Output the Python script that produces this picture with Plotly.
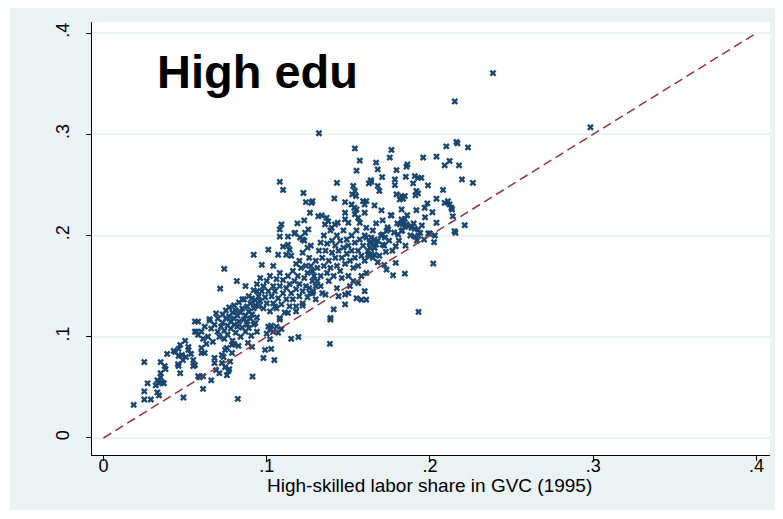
import plotly.graph_objects as go

# ---- data: (GVC high-skilled share 1995, value), grouped by area ----
lower_tail = [
    (.0185, .0327), (.025, .075), (.025, .038), (.025, .046), (.027, .054), (.029, .038),
    (.034, .042), (.033, .045), (.034, .054), (.033, .057), (.035, .060), (.036, .055),
    (.032, .052), (.035, .064), (.035, .075), (.037, .054), (.0375, .071), (.038, .068),
    (.039, .083), (.043, .086), (.044, .085), (.046, .088), (.047, .092), (.048, .082),
    (.046, .081), (.047, .064), (.046, .071), (.0456, .073), (.0487, .077), (.0505, .080),
    (.050, .096), (.052, .090), (.052, .087), (.0536, .083), (.049, .040), (.055, .077),
    (.056, .072), (.055, .071), (.058, .061), (.059, .060), (.061, .061), (.056, .115),
    (.056, .105), (.057, .105), (.060, .089), (.060, .084), (.062, .084), (.061, .0485),
    (.066, .057), (.068, .079), (.068, .074), (.069, .067), (.071, .064), (.0725, .082),
    (.0735, .080), (.0725, .074), (.0745, .087), (.0756, .089), (.0745, .070), (.0765, .066),
    (.077, .068), (.0756, .062), (.0776, .0755), (.0787, .084), (.0787, .092), (.080, .093),
    (.0827, .091), (.0823, .0386),
]
left_edge = [
    (.074, .167), (.0817, .155), (.0715, .1475), (.058, .115), (.065, .1175), (.085, .137),
    (.087, .150), (.0878, .115), (.093, .1135), (.089, .1086), (.094, .105), (.0905, .101),
    (.0885, .094), (.091, .090), (.101, .110), (.1027, .111), (.102, .107), (.100, .103),
    (.102, .0977), (.106, .110), (.109, .1076), (.107, .104), (.104, .105), (.099, .087),
    (.1027, .088), (.098, .079), (.1047, .077), (.115, .098), (.1194, .0997), (.1387, .093),
    (.0913, .0607), (.108, .117), (.139, .117),
]
middle_sparse = [
    (.092, .181), (.101, .186), (.097, .171), (.104, .170), (.107, .181), (.110, .189),
    (.113, .191), (.114, .186), (.112, .181), (.108, .199), (.113, .199), (.117, .202),
    (.1204, .198), (.122, .196), (.134, .143), (.136, .1416), (.148, .1416), (.141, .127),
    (.148, .132), (.139, .1185), (.122, .1307), (.1285, .145), (.1265, .143), (.108, .1185),
    (.113, .1235), (.118, .130), (.105, .130), (.155, .138), (.158, .1366), (.153, .155),
    (.156, .153), (.133, .150), (.138, .155), (.143, .148), (.146, .158), (.151, .150),
    (.144, .140), (.131, .155), (.150, .143),
]
upper_middle = [
    (.154, .286), (.157, .274), (.155, .264), (.108, .253), (.110, .245), (.1225, .242),
    (.124, .233), (.1275, .2323), (.128, .234), (.1265, .2225), (.123, .215), (.1188, .212),
    (.109, .211), (.108, .206), (.143, .252), (.1414, .2366), (.148, .233), (.148, .2225),
    (.152, .2307), (.1536, .2274), (.155, .2257), (.153, .249), (.154, .244), (.1524, .2406),
    (.1547, .239), (.159, .234), (.1316, .219), (.1337, .2198), (.1367, .2175), (.1377, .214),
    (.1357, .211), (.1418, .211), (.1435, .2126), (.1398, .2076), (.148, .216), (.150, .2126),
    (.154, .221), (.156, .2175), (.157, .2126), (.1255, .206), (.1235, .2027), (.1174, .2027),
]
right_lower = [
    (.161, .198), (.164, .198), (.166, .196), (.171, .201), (.1724, .198), (.1734, .2045),
    (.1805, .201), (.1826, .2045), (.1907, .199), (.193, .200), (.194, .2026), (.1999, .202),
    (.203, .200), (.2025, .1934), (.1964, .196), (.2156, .2027), (.167, .191), (.164, .1927),
    (.1632, .1878), (.166, .1878), (.171, .191), (.179, .1894), (.173, .1839), (.162, .181),
    (.164, .182), (.166, .181), (.165, .178), (.163, .1795), (.168, .1736), (.172, .171),
    (.1734, .1663), (.179, .173), (.1774, .1607), (.1846, .1624), (.202, .1723), (.161, .163),
    (.160, .145), (.161, .1366), (.193, .1245),
]
right_upper = [
    (.210, .288), (.2168, .291), (.2233, .287), (.1764, .2845), (.1754, .277), (.1958, .277),
    (.204, .278), (.167, .272), (.168, .2653), (.1862, .2703), (.1856, .268), (.1795, .2646),
    (.212, .2736), (.209, .2693), (.2178, .2693), (.1638, .2547), (.1626, .2515), (.164, .253),
    (.1707, .2577), (.1785, .2554), (.1785, .2498), (.1852, .258), (.1907, .2587), (.1927, .257),
    (.1947, .257), (.1897, .2515), (.1988, .2495), (.2196, .2554), (.2263, .252), (.208, .245),
    (.168, .249), (.169, .244), (.161, .234), (.160, .2307), (.166, .2297), (.1703, .2248),
    (.1764, .2198), (.1795, .2406), (.1826, .239), (.1846, .239), (.1815, .2356), (.1835, .2363),
    (.1917, .244), (.1927, .2416), (.1911, .2396), (.1826, .2257), (.1917, .225), (.1968, .2274),
    (.1984, .2317), (.204, .2363), (.2015, .223), (.209, .2323), (.211, .234), (.212, .2307),
    (.2131, .2274), (.2135, .2257), (.214, .219), (.2213, .2102), (.204, .2126), (.1826, .2158),
    (.1846, .2165), (.1835, .2126), (.1856, .211), (.1815, .211), (.1866, .2092), (.1846, .2086),
    (.1887, .2076), (.1907, .2066), (.1927, .206), (.161, .2076), (.160, .2225), (.1744, .206),
    (.199, .202), (.215, .2043),
]
outliers = [
    (.2386, .3604), (.2152, .3324), (.132, .301), (.2162, .2924), (.2983, .3069),
]
dense_low = [
    (.066, .108), (.068, .112), (.070, .105), (.070, .118), (.071, .100), (.072, .110),
    (.073, .114), (.073, .122), (.074, .098), (.074, .106), (.075, .118), (.075, .126),
    (.076, .111), (.076, .102), (.077, .120), (.077, .129), (.078, .108), (.078, .115),
    (.079, .096), (.079, .124), (.080, .112), (.080, .118), (.080, .131), (.081, .104),
    (.081, .126), (.082, .110), (.082, .121), (.083, .115), (.083, .134), (.084, .100),
    (.084, .124), (.085, .109), (.085, .128), (.086, .117), (.086, .137), (.087, .121),
    (.087, .105), (.088, .130), (.088, .112), (.089, .125), (.089, .140), (.090, .118),
    (.090, .133), (.091, .122), (.092, .128), (.092, .112), (.093, .136), (.094, .119),
    (.094, .145), (.095, .130), (.062, .110), (.064, .100), (.065, .116), (.067, .095),
    (.069, .123), (.063, .093), (.060, .105), (.058, .102), (.061, .098),
]
dense_mid = [
    (.091, .138), (.092, .146), (.093, .131), (.094, .152), (.095, .140), (.096, .135),
    (.096, .158), (.097, .145), (.098, .128), (.098, .150), (.099, .139), (.100, .155),
    (.100, .133), (.101, .145), (.102, .160), (.102, .125), (.103, .140), (.104, .150),
    (.104, .133), (.105, .145), (.106, .157), (.106, .128), (.107, .138), (.108, .150),
    (.108, .163), (.109, .132), (.110, .143), (.110, .156), (.111, .124), (.112, .148),
    (.112, .137), (.113, .160), (.114, .152), (.114, .130), (.115, .143), (.116, .165),
    (.116, .137), (.117, .155), (.118, .147), (.118, .125), (.119, .160), (.120, .140),
    (.120, .152), (.121, .168), (.122, .145), (.122, .133), (.123, .158), (.124, .150),
    (.125, .163), (.125, .139), (.126, .148), (.127, .170), (.128, .155), (.128, .143),
    (.129, .160), (.130, .150), (.130, .137),
]
dense_high = [
    (.130, .175), (.131, .168), (.132, .185), (.133, .160), (.133, .193), (.134, .178),
    (.135, .170), (.135, .200), (.136, .185), (.137, .163), (.137, .192), (.138, .175),
    (.139, .205), (.139, .168), (.140, .183), (.140, .195), (.141, .160), (.142, .178),
    (.142, .190), (.143, .170), (.143, .200), (.144, .185), (.145, .165), (.145, .195),
    (.146, .178), (.147, .188), (.147, .205), (.148, .172), (.149, .182), (.149, .196),
    (.150, .160), (.150, .190), (.151, .175), (.152, .200), (.152, .185), (.153, .168),
    (.154, .193), (.154, .178), (.155, .205), (.156, .185), (.156, .170), (.157, .196),
    (.158, .180), (.158, .160), (.159, .190), (.160, .175), (.160, .200), (.120, .175),
    (.122, .183), (.124, .170), (.126, .178), (.127, .190), (.128, .165), (.118, .172),
    (.115, .180), (.123, .195), (.125, .188),
]
dense_right = [
    (.162, .185), (.163, .193), (.165, .205), (.166, .188), (.167, .212), (.168, .195),
    (.169, .180), (.170, .200), (.171, .215), (.172, .190), (.174, .208), (.175, .195),
    (.176, .220), (.177, .185), (.178, .203), (.180, .212), (.181, .195), (.183, .205),
    (.185, .190), (.186, .220), (.188, .200), (.190, .212), (.192, .195), (.195, .210),
    (.197, .218),
]

point_groups = [lower_tail, left_edge, middle_sparse, upper_middle, right_lower,
                right_upper, outliers, dense_low, dense_mid, dense_high, dense_right]
gvc_share = [p[0] for g in point_groups for p in g]
outcome_share = [p[1] for g in point_groups for p in g]

diag_x = [0, 0.4]
diag_y = [0, 0.4]
tick_vals = [0, 0.1, 0.2, 0.3, 0.4]
tick_text = ["0", ".1", ".2", ".3", ".4"]
x_title = "High-skilled labor share in GVC (1995)"
panel_label = "High edu"

FONT = "Liberation Sans, Arial, sans-serif"
BG = "#EAF2F3"

fig = go.Figure()
fig.add_trace(go.Scatter(
    x=gvc_share, y=outcome_share, mode="markers",
    marker=dict(symbol="x", size=6, color="#1A476F", line=dict(width=0)),
    showlegend=False, hoverinfo="skip"))
fig.add_trace(go.Scatter(
    x=diag_x, y=diag_y, mode="lines",
    line=dict(color="#90353B", width=1.5, dash="9px,5px"),
    showlegend=False, hoverinfo="skip"))

# page body adds an 8px offset, so the figure is 8px smaller than the window
fig.update_layout(
    width=775, height=511,
    margin=dict(l=84, r=13, t=14, b=64, autoexpand=False),
    paper_bgcolor="white", plot_bgcolor="white",
    font=dict(family=FONT, size=18, color="black"),
    shapes=[
        dict(type="rect", xref="paper", yref="paper", x0=-0.1209, x1=1.0074,
             y0=-0.127, y1=1.06, fillcolor=BG, line=dict(width=0), layer="below"),
        dict(type="rect", xref="paper", yref="paper", x0=0, x1=1, y0=0, y1=1,
             fillcolor="white", line=dict(width=0), layer="below"),
    ],
    annotations=[
        dict(text="<b>" + panel_label + "</b>", xref="paper", yref="paper",
             x=0.2434, y=0.885, xanchor="center", yanchor="middle", showarrow=False,
             font=dict(family=FONT, size=47, color="black")),
        dict(text=x_title, xref="paper", yref="paper",
             x=0.4978, y=-0.071, xanchor="center", yanchor="middle", showarrow=False,
             font=dict(family=FONT, size=19, color="black")),
    ],
)
fig.update_xaxes(
    range=[-0.00704, 0.4083], tickvals=tick_vals, ticktext=tick_text,
    ticks="outside", ticklen=5, tickcolor="black", showline=True, linecolor="black",
    linewidth=1, showgrid=False, zeroline=False, automargin=False,
    ticklabelstandoff=-11,
    tickfont=dict(size=18, color="black"))
fig.update_yaxes(
    range=[-0.0168, 0.4109], tickvals=tick_vals, ticktext=tick_text,
    ticks="outside", ticklen=5, tickcolor="black", showline=True, linecolor="black",
    linewidth=1, showgrid=True, gridcolor=BG, gridwidth=1.5, zeroline=False,
    automargin=False, tickangle=-90, ticklabelstandoff=10,
    tickfont=dict(size=18, color="black"))

fig.write_html("out.html")
